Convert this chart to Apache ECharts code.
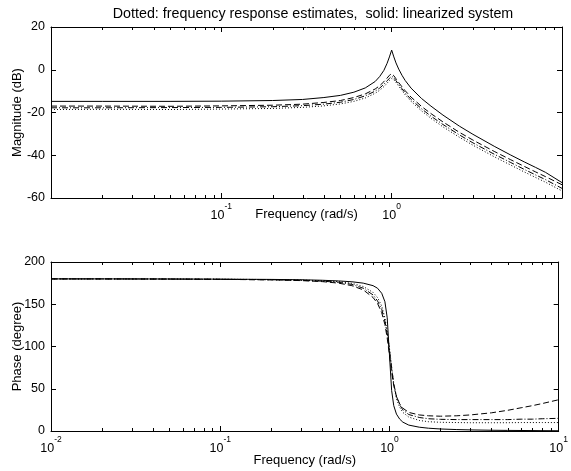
<!DOCTYPE html>
<html><head><meta charset="utf-8">
<script src="https://cdn.jsdelivr.net/npm/echarts@6/dist/echarts.min.js"></script>
<style>html,body{margin:0;padding:0;background:#fff}#c{width:571px;height:471px}</style>
</head><body><div id="c"></div>
<script>
// Frequencies (rad/s) at which all curves are read
const freq = [0.01,0.02,0.05,0.1,0.2,0.3,0.4,0.5,0.6,0.7,0.8,0.85,0.9,0.94,0.97,1.0,1.03,1.06,1.1,1.15,1.2,1.3,1.5,1.7,2,2.5,3,4,5,6,7,8,10];

// Magnitude (dB)
const magSolid = [-14.8,-14.8,-14.8,-14.7,-14.4,-13.9,-13.0,-12.0,-10.5,-8.5,-5.5,-3.2,-0.3,3.0,6.0,9.2,6.0,3.2,0.3,-2.6,-5.0,-8.6,-13.5,-17.0,-21.2,-26.4,-30.2,-35.8,-39.9,-43.1,-45.7,-48.0,-52.8];
const magEst1 = [-17.0,-17.0,-17.1,-16.9,-16.6,-16.1,-15.3,-14.4,-13.0,-11.3,-9.0,-7.5,-5.6,-3.9,-2.6,-1.8,-2.8,-4.2,-6.0,-8.0,-9.8,-12.8,-17.2,-20.5,-24.4,-29.3,-32.9,-38.2,-42.1,-45.2,-47.8,-50.0,-53.8];
const magEst2 = [-17.8,-17.8,-17.7,-17.6,-17.3,-16.8,-16.1,-15.2,-13.9,-12.2,-10.0,-8.6,-6.8,-5.2,-4.0,-3.0,-3.8,-5.1,-6.9,-8.9,-10.8,-13.9,-18.3,-21.7,-25.6,-30.5,-34.2,-39.5,-43.4,-46.6,-49.2,-51.4,-55.5];
const magEst3 = [-18.6,-18.5,-18.6,-18.4,-18.1,-17.6,-16.9,-16.0,-14.8,-13.2,-11.0,-9.6,-7.9,-6.3,-5.0,-4.1,-4.7,-5.9,-7.7,-9.7,-11.7,-14.8,-19.3,-22.7,-26.7,-31.6,-35.3,-40.7,-44.6,-47.8,-50.4,-52.6,-56.7];

// Phase (degree)
const phSolid = [180,180,179.9,179.7,179.4,179,178.4,177.6,176.6,175,172,169,163,153,134,90,48,30,20,14,10.5,7,4.5,3.3,2.4,1.7,1.3,0.9,0.7,0.6,0.5,0.4,0.3];
const phEst1 = [180,180,179.8,179.5,178.8,178,176.8,175,172,167,158,151,140,126,110,90,70,54,41,32,27,22,19,18,17.5,18,19,21.5,24.5,27.5,30,32.5,37];
const phEst2 = [180,180,179.8,179.5,179,178.3,177.3,176,173.5,169,161,154,144,130,115,96,75,56,41,31,25,19.5,16,14.5,13.8,13.5,13.5,13.5,13.5,14,14,14.5,15];
const phEst3 = [180,180,179.9,179.6,179.2,178.6,177.8,176.8,174.8,171,164,158,148,134,118,98,76,55,38,28,22,16.5,12.5,11,10.3,10,9.8,9.8,9.8,10,10,10,10];

// Axis ranges and ticks
const freqRange = [0.01, 10];
const magRange = [-60, 20];
const magInterval = 20;
const phRange = [0, 200];
const phInterval = 50;
const minorX = [0.02,0.03,0.04,0.05,0.06,0.07,0.08,0.09,0.2,0.3,0.4,0.5,0.6,0.7,0.8,0.9,2,3,4,5,6,7,8,9];

const titleText = 'Dotted: frequency response estimates,  solid: linearized system';
const xName = 'Frequency (rad/s)';
const magName = 'Magnitude (dB)';
const phName = 'Phase (degree)';

const FONT = '"Liberation Sans", Arial, Helvetica, sans-serif';
const BLACK = '#000';

function pairs(ys){ return freq.map((f,i)=>[f, ys[i]]); }
function logLabel(v){ const e = Math.round(Math.log10(v)); return '{b|10}{e|' + e + '}'; }
const rich = {
  b: {fontSize: 12.5, fontFamily: FONT, color: BLACK, verticalAlign: 'bottom', lineHeight: 20},
  e: {fontSize: 8.5, fontFamily: FONT, color: BLACK, verticalAlign: 'top', lineHeight: 9}
};
const lineAx = {show: true, onZero: false, lineStyle: {color: BLACK, width: 1}};
const tickAx = {show: true, inside: true, length: 5, lineStyle: {color: BLACK, width: 1}};
const nameStyle = {fontSize: 13, fontFamily: FONT, color: BLACK};

function xAx(grid, pos, labels, margin, nameGap, showEnds){
  const a = {
    gridIndex: grid, type: 'log', logBase: 10, min: freqRange[0], max: freqRange[1], position: pos,
    axisLine: lineAx, axisTick: tickAx, splitLine: {show: false}, minorTick: {show: false},
    axisLabel: {show: labels, formatter: logLabel, rich: rich, margin: margin, showMinLabel: showEnds, showMaxLabel: showEnds}
  };
  if (labels) { a.name = xName; a.nameLocation = 'middle'; a.nameGap = nameGap; a.nameMoveOverlap = false; a.nameTextStyle = nameStyle; }
  return a;
}
function yAx(grid, pos, range, interval, labels, name){
  const a = {
    gridIndex: grid, type: 'value', min: range[0], max: range[1], interval: interval, position: pos,
    axisLine: lineAx, axisTick: tickAx, splitLine: {show: false},
    axisLabel: {show: labels, margin: 6, fontSize: 12.5, fontFamily: FONT, color: BLACK}
  };
  if (labels) { a.name = name; a.nameLocation = 'middle'; a.nameGap = 27; a.nameRotate = 90; a.nameMoveOverlap = false; a.nameTextStyle = nameStyle; }
  return a;
}
function lineSeries(xi, yi, ys, dash, z){
  return {type: 'line', xAxisIndex: xi, yAxisIndex: yi, data: pairs(ys), showSymbol: false, symbol: 'none',
    silent: true, z: z, lineStyle: {color: BLACK, width: 1, type: dash}, emphasis: {disabled: true}};
}
function minorSeries(xi, yi, range){
  return {type: 'custom', xAxisIndex: xi, yAxisIndex: yi, silent: true, z: 5,
    data: minorX.map(v => [v, range[0]]),
    renderItem: function(params, api){
      const x = api.value(0);
      const pb = api.coord([x, range[0]]);
      const pt = api.coord([x, range[1]]);
      const px = Math.round(pb[0]) + 0.5;
      return {type: 'group', children: [
        {type: 'line', shape: {x1: px, y1: pb[1], x2: px, y2: pb[1] - 3}, style: {stroke: BLACK, lineWidth: 1}},
        {type: 'line', shape: {x1: px, y1: pt[1], x2: px, y2: pt[1] + 3}, style: {stroke: BLACK, lineWidth: 1}}
      ]};
    }};
}

const chart = echarts.init(document.getElementById('c'), null, {renderer: 'canvas'});
chart.setOption({
  animation: false,
  backgroundColor: '#fff',
  title: {text: titleText, left: 308, top: 2, textAlign: 'center',
    textStyle: {fontSize: 14.3, fontWeight: 'normal', fontFamily: FONT, color: BLACK}},
  grid: [
    {left: 51, right: 9, top: 27, height: 171, containLabel: false},
    {left: 51, right: 9, top: 262, height: 169, containLabel: false}
  ],
  xAxis: [
    xAx(0, 'bottom', true, 4, 10, false),
    xAx(0, 'top', false, 0, 0, false),
    xAx(1, 'bottom', true, 4, 23, true),
    xAx(1, 'top', false, 0, 0, false)
  ],
  yAxis: [
    yAx(0, 'left', magRange, magInterval, true, magName),
    yAx(0, 'right', magRange, magInterval, false),
    yAx(1, 'left', phRange, phInterval, true, phName),
    yAx(1, 'right', phRange, phInterval, false)
  ],
  series: [
    lineSeries(0, 0, magEst1, [6, 3], 2),
    lineSeries(0, 0, magEst2, [6, 2, 1, 2], 2),
    lineSeries(0, 0, magEst3, [1, 2], 2),
    lineSeries(0, 0, magSolid, 'solid', 3),
    lineSeries(2, 2, phEst1, [6, 3], 2),
    lineSeries(2, 2, phEst2, [6, 2, 1, 2], 2),
    lineSeries(2, 2, phEst3, [1, 2], 2),
    lineSeries(2, 2, phSolid, 'solid', 3),
    minorSeries(0, 0, magRange),
    minorSeries(2, 2, phRange)
  ]
});
</script>
</body></html>
